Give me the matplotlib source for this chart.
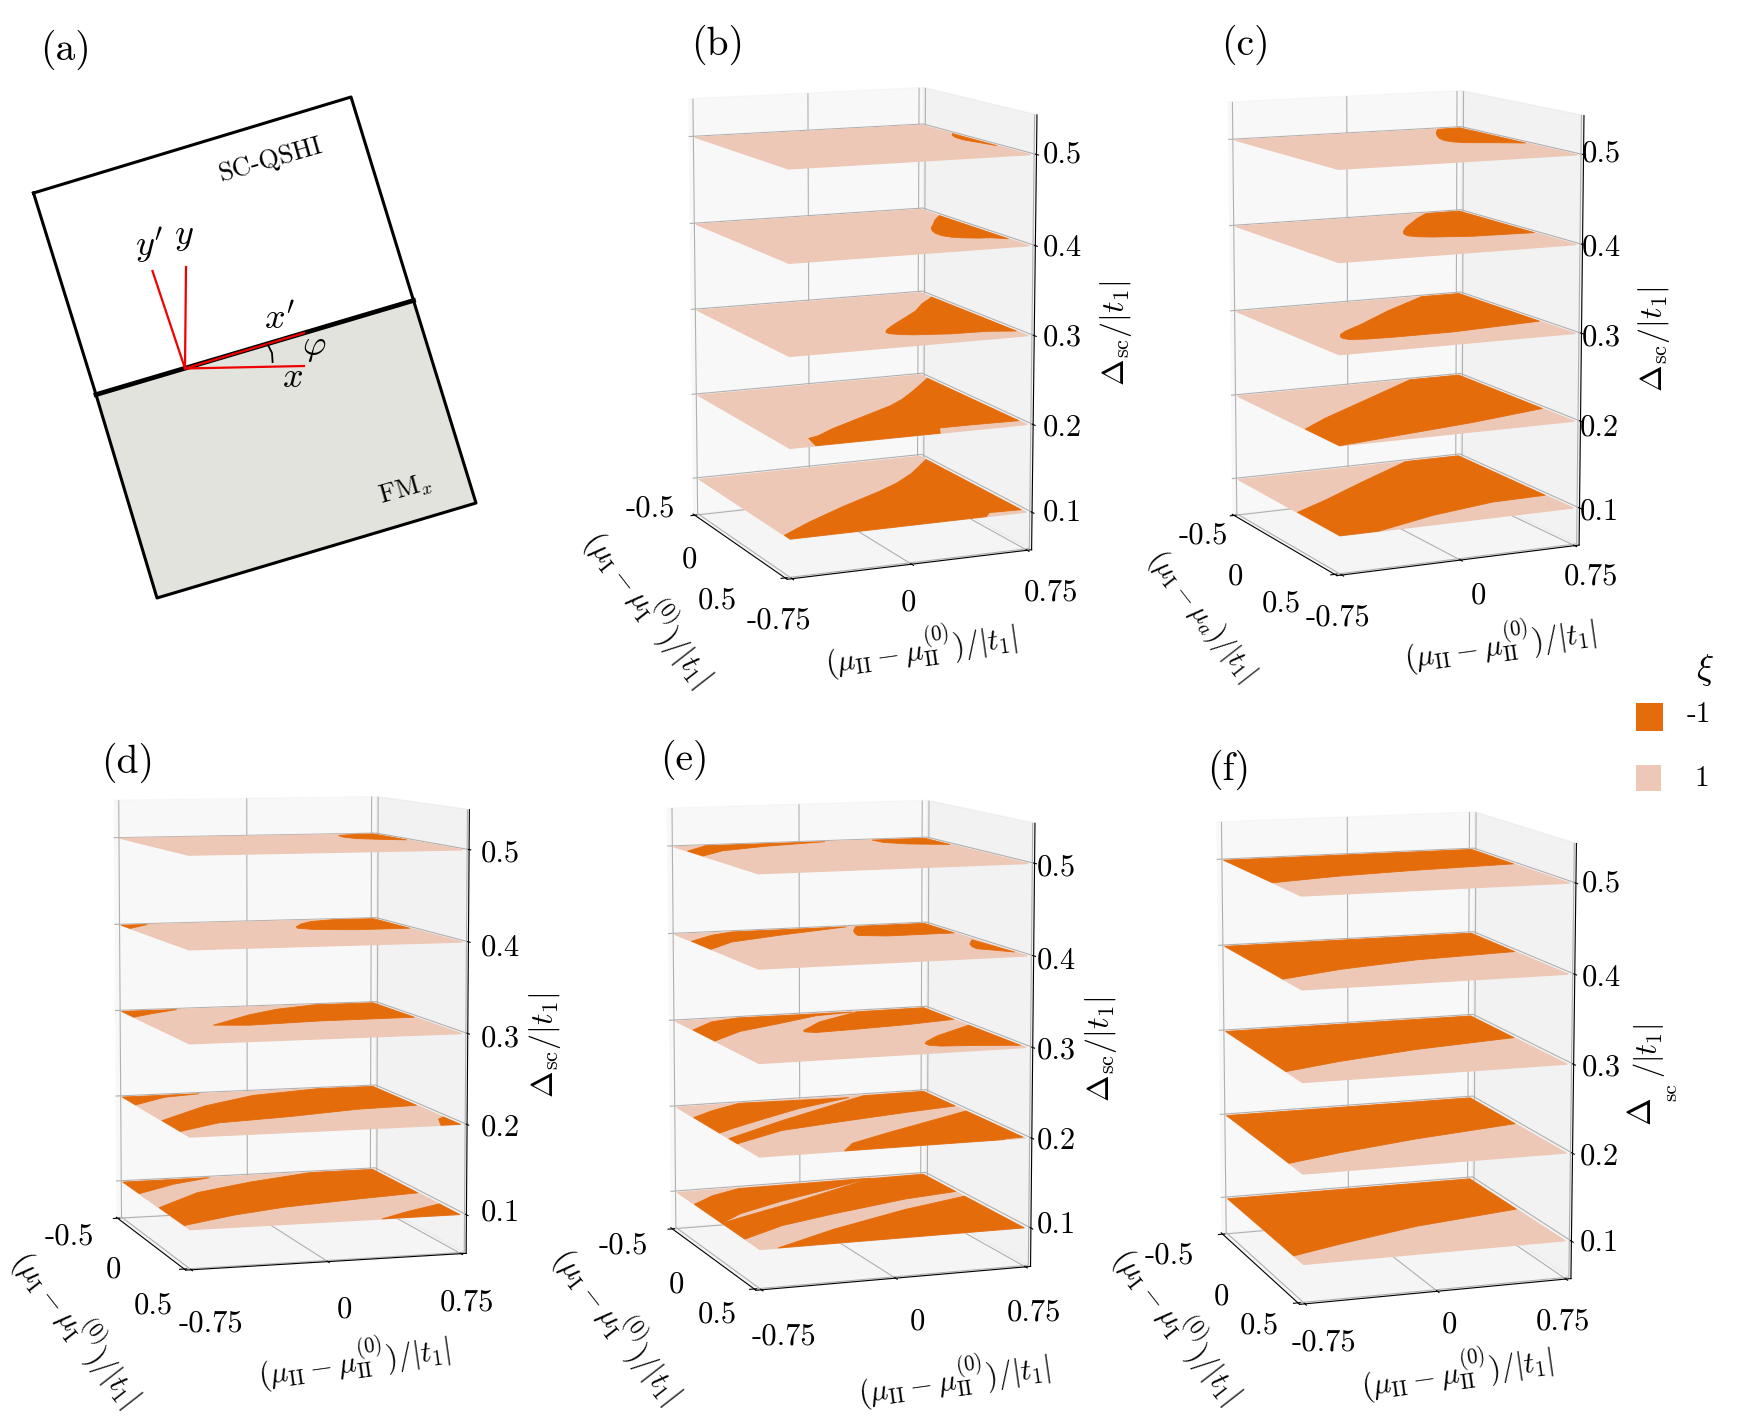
import numpy as np
import matplotlib
matplotlib.use("Agg")
import matplotlib.pyplot as plt
from mpl_toolkits.mplot3d.art3d import Poly3DCollection

plt.rcParams['mathtext.fontset'] = 'cm'
plt.rcParams['font.family'] = 'cmr10'
plt.rcParams['axes.formatter.use_mathtext'] = True

W, H = 1744, 1424
ORANGE = '#E46C0B'
PALE = '#EEC8B6'

# Levels and extent of each plane
levels = [0.5, 0.4, 0.3, 0.2, 0.1]
mu_I_range = (-0.5, 0.5)
mu_II_range = (-0.75, 0.75)
mu_I_ticks = [-0.5, 0.5]
mu_II_ticks = [-0.75, 0, 0.75]
level_ticks = [0.1, 0.2, 0.3, 0.4, 0.5]

# Regions with xi = -1 as (mu_I, mu_II) outlines
b_05 = [[(-0.20, 0.75), (-0.14, 0.71), (-0.08, 0.69), (-0.03, 0.685), (0.02, 0.69), (0.11, 0.72), (0.21, 0.75)]]
b_04 = [[(-0.32, 0.75), (-0.22, 0.65), (-0.12, 0.57), (-0.04, 0.50), (0.03, 0.46), (0.09, 0.44), (0.15, 0.44), (0.20, 0.47), (0.23, 0.52), (0.26, 0.60), (0.27, 0.67), (0.32, 0.75)]]
b_03 = [[(-0.39, 0.75), (-0.27, 0.60), (-0.14, 0.47), (-0.04, 0.34), (0.05, 0.22), (0.12, 0.13), (0.18, 0.06), (0.22, 0.03), (0.25, 0.03), (0.285, 0.08), (0.31, 0.15), (0.35, 0.36), (0.36, 0.59), (0.40, 0.75)]]
b_02 = [[(-0.43, 0.75), (-0.31, 0.61), (-0.21, 0.49), (-0.10, 0.35), (-0.01, 0.21), (0.13, -0.07), (0.26, -0.33), (0.35, -0.48), (0.38, -0.56), (0.50, -0.59), (0.50, 0.19), (0.42, 0.24), (0.42, 0.43), (0.43, 0.75)]]
b_01 = [[(-0.44, 0.75), (-0.33, 0.62), (-0.24, 0.51), (-0.12, 0.33), (-0.02, 0.14), (0.14, -0.20), (0.30, -0.51), (0.44, -0.75), (0.50, -0.75), (0.50, 0.49), (0.45, 0.55), (0.46, 0.75)]]

c_05 = [[(-0.49, 0.59), (-0.38, 0.50), (-0.29, 0.44), (-0.20, 0.39), (-0.13, 0.37), (-0.07, 0.39), (-0.03, 0.44), (0.02, 0.59), (0.08, 0.75), (-0.50, 0.75)]]
c_04 = [[(-0.50, 0.52), (-0.39, 0.38), (-0.28, 0.26), (-0.18, 0.15), (-0.09, 0.07), (-0.03, 0.03), (0.02, 0.02), (0.06, 0.06), (0.09, 0.13), (0.14, 0.36), (0.16, 0.75), (-0.50, 0.75)]]
c_03 = [[(-0.50, 0.49), (-0.26, 0.09), (-0.03, -0.25), (0.08, -0.43), (0.13, -0.49), (0.17, -0.52), (0.21, -0.53), (0.24, -0.51), (0.26, -0.42), (0.27, -0.26), (0.27, 0.13), (0.21, 0.75), (-0.50, 0.75)]]
c_02 = [[(-0.50, 0.41), (-0.34, 0.13), (-0.18, -0.15), (0.03, -0.52), (0.18, -0.75), (0.50, -0.75), (0.44, -0.37), (0.35, 0.21), (0.24, 0.75), (-0.50, 0.75)]]
c_01 = [[(-0.50, 0.38), (-0.24, -0.11), (-0.03, -0.49), (0.10, -0.75), (0.50, -0.75), (0.50, -0.51), (0.37, -0.07), (0.28, 0.39), (0.27, 0.75), (-0.50, 0.75)]]

d_05 = [[(-0.44, 0.51), (-0.50, 0.65), (-0.50, 0.75), (-0.11, 0.75), (-0.17, 0.62), (-0.24, 0.52), (-0.34, 0.49)]]
d_04 = [[(-0.25, 0.17), (-0.36, 0.25), (-0.45, 0.35), (-0.50, 0.50), (-0.50, 0.75), (-0.07, 0.75), (-0.07, 0.44), (-0.12, 0.22), (-0.19, 0.15)],
        [(-0.50, -0.75), (-0.50, -0.60), (-0.36, -0.75)]]
d_03 = [[(0.01, -0.42), (-0.26, -0.10), (-0.40, 0.12), (-0.50, 0.39), (-0.50, 0.75), (-0.01, 0.75), (0.00, 0.19), (0.05, -0.23)],
        [(-0.50, -0.75), (-0.50, -0.43), (-0.40, -0.61), (-0.31, -0.75)]]
d_02 = [[(0.11, -0.75), (-0.19, -0.39), (-0.40, -0.02), (-0.50, 0.41), (-0.50, 0.75), (0.02, 0.75), (0.05, 0.39), (0.15, -0.05), (0.22, -0.48), (0.37, -0.75)],
        [(-0.50, -0.75), (-0.50, -0.30), (-0.45, -0.52), (-0.29, -0.75)],
        [(0.36, 0.70), (0.32, 0.75), (0.50, 0.75), (0.50, 0.64)]]
d_01 = [[(0.06, -0.75), (-0.20, -0.43), (-0.36, -0.06), (-0.50, 0.37), (-0.50, 0.75), (0.04, 0.75), (0.10, 0.36), (0.18, -0.09), (0.28, -0.42), (0.42, -0.75)],
        [(-0.50, -0.75), (-0.50, -0.24), (-0.40, -0.49), (-0.24, -0.75)],
        [(0.50, 0.31), (0.39, 0.51), (0.28, 0.75), (0.50, 0.75)]]

e_05 = [[(-0.33, -0.75), (-0.50, -0.57), (-0.50, -0.45), (-0.50, 0.14), (-0.41, -0.25), (-0.30, -0.56), (-0.14, -0.75)],
        [(-0.50, 0.43), (-0.50, 0.75), (-0.24, 0.75), (-0.31, 0.54), (-0.40, 0.44)]]
e_04 = [[(-0.29, -0.75), (-0.43, -0.57), (-0.50, -0.42), (-0.50, 0.27), (-0.35, -0.20), (-0.22, -0.55), (-0.05, -0.75)],
        [(-0.50, 0.33), (-0.38, 0.25), (-0.30, 0.215), (-0.24, 0.20), (-0.19, 0.35), (-0.19, 0.75), (-0.50, 0.75)],
        [(0.02, 0.73), (0.13, 0.65), (0.20, 0.62), (0.26, 0.61), (0.32, 0.68), (0.39, 0.75)]]
e_03 = [[(-0.28, -0.75), (-0.44, -0.57), (-0.50, -0.39), (-0.49, 0.30), (-0.45, 0.06), (-0.32, -0.22), (-0.19, -0.52), (-0.01, -0.75)],
        [(-0.13, -0.18), (-0.30, 0.00), (-0.49, 0.33), (-0.50, 0.75), (-0.19, 0.75), (-0.13, 0.43), (-0.09, 0.08), (-0.07, -0.14), (-0.10, -0.19)],
        [(0.26, 0.32), (0.15, 0.45), (-0.04, 0.75), (0.45, 0.75), (0.40, 0.53), (0.37, 0.34), (0.34, 0.29), (0.30, 0.29)]]
e_02 = [[(-0.28, -0.75), (-0.39, -0.59), (-0.50, -0.38), (-0.47, 0.27), (-0.32, -0.11), (-0.17, -0.39), (-0.03, -0.64), (0.04, -0.75)],
        [(0.15, -0.75), (0.09, -0.65), (-0.11, -0.32), (-0.42, 0.24), (-0.49, 0.37), (-0.50, 0.75), (-0.17, 0.75), (-0.11, 0.42), (-0.01, -0.06), (0.07, -0.41), (0.25, -0.75)],
        [(0.50, -0.28), (0.38, -0.17), (0.24, 0.11), (-0.06, 0.75), (0.48, 0.75), (0.49, 0.64), (0.50, 0.63)]]
e_01 = [[(-0.28, -0.75), (-0.40, -0.59), (-0.49, -0.39), (-0.50, 0.42), (-0.38, 0.13), (-0.22, -0.27), (-0.07, -0.58), (0.06, -0.75)],
        [(0.06, -0.75), (-0.03, -0.56), (-0.20, -0.18), (-0.49, 0.41), (-0.50, 0.75), (-0.16, 0.75), (-0.10, 0.41), (0.05, -0.10), (0.17, -0.46), (0.33, -0.75)],
        [(0.50, -0.65), (0.29, -0.23), (0.07, 0.31), (-0.07, 0.75), (0.50, 0.75)]]

f_05 = [[(-0.50, -0.75), (-0.50, 0.75), (-0.05, 0.75), (0.00, 0.14), (0.06, -0.33), (0.15, -0.75)]]
f_04 = [[(-0.50, -0.75), (-0.50, 0.75), (-0.03, 0.75), (0.03, 0.13), (0.14, -0.37), (0.27, -0.75)]]
f_03 = [[(-0.50, -0.75), (-0.50, 0.75), (-0.03, 0.75), (0.07, 0.10), (0.19, -0.40), (0.30, -0.75)]]
f_02 = [[(-0.50, -0.75), (-0.50, 0.75), (-0.01, 0.75), (0.11, 0.09), (0.23, -0.41), (0.33, -0.75)]]
f_01 = [[(-0.50, -0.75), (-0.50, 0.75), (0.01, 0.75), (0.13, 0.08), (0.28, -0.44), (0.38, -0.75)]]

regions = {
    'b': [b_05, b_04, b_03, b_02, b_01],
    'c': [c_05, c_04, c_03, c_02, c_01],
    'd': [d_05, d_04, d_03, d_02, d_01],
    'e': [e_05, e_04, e_03, e_02, e_01],
    'f': [f_05, f_04, f_03, f_02, f_01],
}

# elev, azim, height of box, focal length, centre x, centre y, size (pixels)
views = {
    'b': (11.09, -23.38, 1.657, 0.935, 850.9, 329.7, 552.3),
    'c': (10.39, -25.54, 1.623, 0.970, 1394.6, 329.3, 550.6),
    'd': (6.92, -16.62, 1.529, 0.974, 278.1, 1029.4, 572.7),
    'e': (9.14, -19.85, 1.537, 0.965, 837.9, 1041.3, 575.9),
    'f': (11.21, -18.81, 1.542, 0.938, 1383.3, 1054.5, 567.4),
}

# Text positions, in reference pixels of the 1568 wide view
mu_I_tick_text = ['-0.5', '0', '0.5']
mu_II_tick_text = ['-0.75', '0', '0.75']
level_text = ['0.5', '0.4', '0.3', '0.2', '0.1']
label_xy = {'b': (645, 40), 'c': (1120, 40), 'd': (115, 686), 'e': (615, 683), 'f': (1105, 692)}
level_xy = {
    'b': [(955, 139), (955, 223), (955, 304), (955, 385), (955, 461)],
    'c': [(1440, 138), (1440, 223), (1440, 304), (1438, 385), (1438, 460)],
    'd': [(450, 768), (450, 852), (450, 934), (450, 1014), (450, 1090)],
    'e': [(950, 780), (950, 864), (950, 945), (950, 1026), (950, 1101)],
    'f': [(1440, 795), (1440, 879), (1440, 960), (1438, 1040), (1438, 1117)],
}
mu_I_xy = {
    'b': [(585, 457), (620, 503), (645, 540)],
    'c': [(1082, 482), (1111, 519), (1152, 543)],
    'd': [(62, 1112), (102, 1142), (138, 1174)],
    'e': [(560, 1120), (608, 1155), (645, 1182)],
    'f': [(1051, 1129), (1098, 1166), (1132, 1192)],
}
mu_II_xy = {
    'b': [(700, 558), (817, 542), (945, 533)],
    'c': [(1203, 555), (1329, 536), (1430, 519)],
    'd': [(190, 1190), (310, 1178), (420, 1171)],
    'e': [(705, 1202), (825, 1188), (930, 1180)],
    'f': [(1190, 1207), (1303, 1191), (1405, 1188)],
}
mu_II_label_xy = {'b': (828, 582), 'c': (1348, 577), 'd': (318, 1222), 'e': (857, 1238), 'f': (1310, 1232)}
mu_I_label_xy = {'b': (585, 545), 'c': (1080, 553), 'd': (70, 1192), 'e': (557, 1190), 'f': (1060, 1190)}
level_label_xy = {'b': (1003, 300), 'c': (1487, 305), 'd': (490, 940), 'e': (990, 943)}

fig = plt.figure(figsize=(W / 100, H / 100), dpi=100)


def put(xy, s, size=22, **kw):
    # xy is given in the 1568 wide view of the reference
    kw.setdefault('ha', 'center')
    kw.setdefault('va', 'center')
    fig.text(xy[0] / 1568, 1 - xy[1] / 1280.3, s, fontsize=size, **kw)


def draw_panel(key):
    elev, azim, boxz, focal, cx, cy, s = views[key]
    ax = fig.add_axes([(cx - s / 2) / W, 1 - (cy + s / 2) / H, s / W, s / H], projection='3d')
    ax.computed_zorder = False
    ax.set_xlim(-0.52, 0.52, view_margin=0)
    ax.set_ylim(-0.78, 0.78, view_margin=0)
    ax.set_zlim(0.057, 0.543, view_margin=0)
    ax.view_init(elev, azim)
    ax.set_box_aspect((1, 1, boxz))
    ax.set_proj_type('persp', focal_length=focal)
    ax.patch.set_alpha(0)

    ax.set_xticks(mu_I_ticks)
    ax.set_yticks(mu_II_ticks)
    ax.set_zticks(level_ticks)
    ax.set_xticklabels([])
    ax.set_yticklabels([])
    ax.set_zticklabels([])
    ax.zaxis.set_ticks_position('upper')

    x0, x1 = mu_I_range
    y0, y1 = mu_II_range
    z_order = 1
    for z, group in zip(levels, regions[key]):
        plane = [(x0, y0, z), (x0, y1, z), (x1, y1, z), (x1, y0, z)]
        ax.add_collection3d(Poly3DCollection([plane], facecolors=PALE, edgecolors=PALE, linewidths=1.0, zorder=z_order))
        z_order += 1
        for outline in group:
            verts = [(p[0], p[1], z) for p in outline]
            ax.add_collection3d(Poly3DCollection([verts], facecolors=ORANGE, edgecolors=ORANGE, linewidths=0.6, zorder=z_order))
            z_order += 1

    put(label_xy[key], '(%s)' % key, size=28.5)
    for xy, s in zip(level_xy[key], level_text):
        put(xy, s)
    for xy, s in zip(mu_I_xy[key], mu_I_tick_text):
        put(xy, s)
    for xy, s in zip(mu_II_xy[key], mu_II_tick_text):
        put(xy, s)
    put(mu_II_label_xy[key], r'$(\mu_{\mathrm{II}}-\mu_{\mathrm{II}}^{(0)})/|t_1|$', size=21.5, rotation=8)
    if key == 'c':
        put(mu_I_label_xy[key], r'$(\mu_{\mathrm{I}}-\mu_{a})/|t_1|$', size=20, rotation=-52)
    else:
        put(mu_I_label_xy[key], r'$(\mu_{\mathrm{I}}-\mu_{\mathrm{I}}^{(0)})/|t_1|$', size=21.5, rotation=-52)
    if key == 'f':
        put((1477, 1000), r'$\Delta$', size=24, rotation=90)
        put((1503, 982), 'sc', size=15, rotation=90)
        put((1483, 945), r'$/|t_1|$', size=22, rotation=90)
    else:
        put(level_label_xy[key], r'$\Delta_{\mathrm{sc}}/|t_1|$', size=23, rotation=90)


# Panel (a): the sketch of the junction, in full pixels
sketch = fig.add_axes([0, 0, 1, 1], zorder=-1)
sketch.set_xlim(0, W)
sketch.set_ylim(H, 0)
sketch.axis('off')
top_box = [(33.5, 193), (351, 97), (413.5, 300.5), (96, 394.6)]
bottom_box = [(96, 394.6), (413.5, 300.5), (476, 503), (157, 598)]
sketch.fill(*zip(*bottom_box), color='#E2E3DC', lw=0)
sketch.plot(*zip(*(top_box + top_box[:1])), color='k', lw=2.2)
sketch.plot(*zip(*(bottom_box + bottom_box[:1])), color='k', lw=2.2)
sketch.plot(*zip(*bottom_box[:2]), color='k', lw=3.4)
origin = (185, 368.5)
for end in [(186, 267), (152.5, 271), (304, 333), (304, 366)]:
    sketch.plot([origin[0], end[0]], [origin[1], end[1]], color='#F00000', lw=1.6)
sketch.plot([268, 272, 272.6], [345, 353, 362], color='k', lw=1.3)
fig.text(65 / W, 1 - 50 / H, '(a)', fontsize=28.5, ha='center', va='center')
fig.text(271 / W, 1 - 160 / H, 'SC-QSHI', fontsize=19, ha='center', va='center', rotation=16)
fig.text(405 / W, 1 - 490 / H, r'FM$_x$', fontsize=19, ha='center', va='center', rotation=16)
for xy, s in [((149, 245), "$y'$"), ((184, 237), '$y$'), ((280, 320), "$x'$"), ((314, 348), r'$\varphi$'), ((292, 378), '$x$')]:
    fig.text(xy[0] / W, 1 - xy[1] / H, s, fontsize=26, ha='center', va='center')

for key in 'bcdef':
    draw_panel(key)

# Legend
legend = fig.add_axes([0, 0, 1, 1], zorder=5)
legend.set_xlim(0, 1568)
legend.set_ylim(1280.3, 0)
legend.axis('off')
legend.fill([1471, 1495, 1495, 1471], [632, 632, 657, 657], color=ORANGE, lw=0)
legend.fill([1471, 1493, 1493, 1471], [688, 688, 711, 711], color=PALE, lw=0)
put((1533, 602), r'$\xi$', size=26)
put((1527, 643), '-1', size=21)
put((1530, 700), '1', size=21)

fig.savefig("out.png", dpi=100)
